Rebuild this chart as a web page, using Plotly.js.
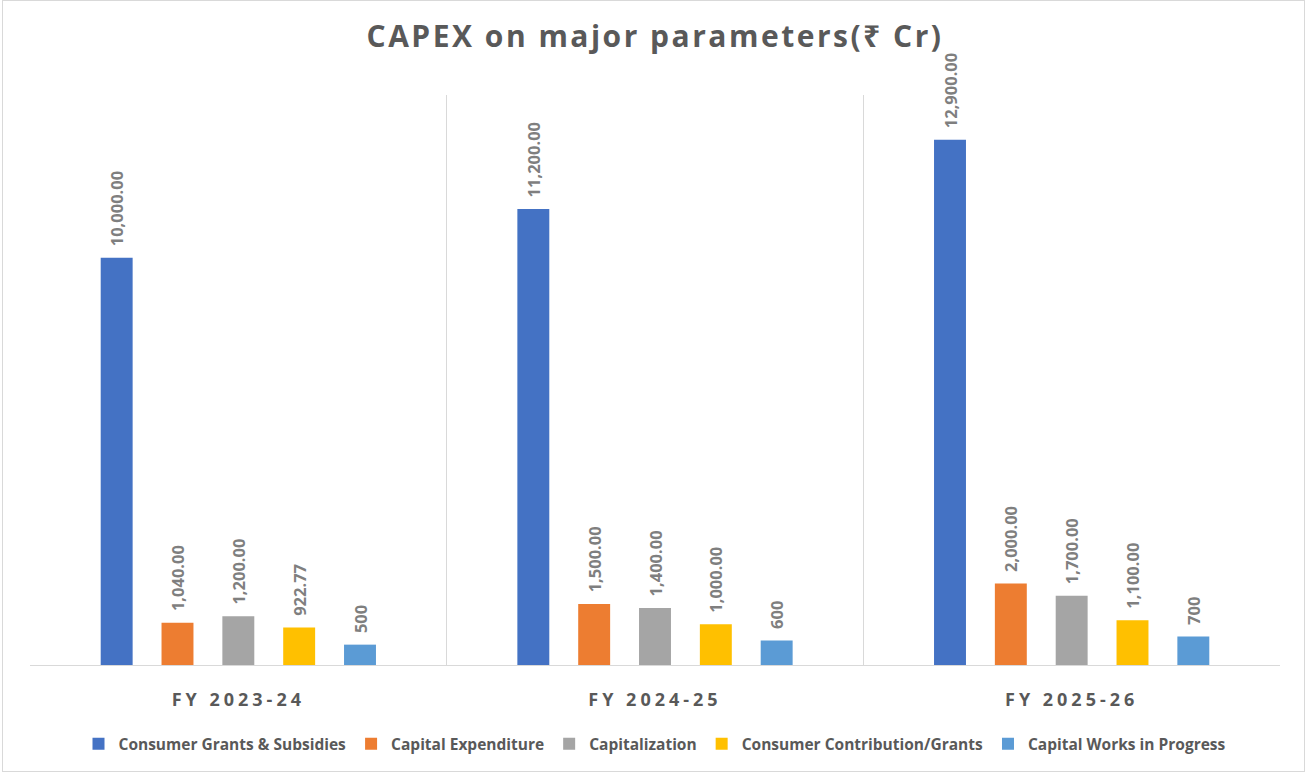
<!DOCTYPE html>
<html>
<head>
<meta charset="utf-8">
<script src="https://cdn.plot.ly/plotly-3.0.1.min.js"></script>
<style>
html,body{margin:0;padding:0;background:#fff;}
#wrap{position:absolute;left:2px;top:0px;width:1303px;height:772px;border:1px solid #d9d9d9;box-sizing:border-box;}
#chart{position:absolute;left:0;top:0;width:1310px;height:776px;}
.xtick text{letter-spacing:4px;}
.gtitle{letter-spacing:2.5px;}
</style>
</head>
<body>
<div id="wrap"></div>
<div id="chart"></div>
<script>
const categories = ["FY 2023-24", "FY 2024-25", "FY 2025-26"];
const seriesNames = ["Consumer Grants & Subsidies", "Capital Expenditure", "Capitalization", "Consumer Contribution/Grants", "Capital Works in Progress"];
const grantsSubsidies = [10000, 11200, 12900];
const capitalExpenditure = [1040, 1500, 2000];
const capitalization = [1200, 1400, 1700];
const contributionGrants = [922.77, 1000, 1100];
const worksInProgress = [500, 600, 700];
const labelsGrants = ["10,000.00", "11,200.00", "12,900.00"];
const labelsCapex = ["1,040.00", "1,500.00", "2,000.00"];
const labelsCapz = ["1,200.00", "1,400.00", "1,700.00"];
const labelsContrib = ["922.77", "1,000.00", "1,100.00"];
const labelsCwip = ["500", "600", "700"];
const colors = ["#4472C4", "#ED7D31", "#A5A5A5", "#FFC000", "#5B9BD5"];

const values = [grantsSubsidies, capitalExpenditure, capitalization, contributionGrants, worksInProgress];
const labels = [labelsGrants, labelsCapex, labelsCapz, labelsContrib, labelsCwip];

const traces = values.map((v, i) => ({
  type: "bar",
  name: seriesNames[i],
  x: categories,
  y: v,
  text: labels[i],
  texttemplate: "\u00A0\u00A0%{text}",
  textposition: "outside",
  textangle: -90,
  constraintext: "none",
  cliponaxis: false,
  textfont: {family: "Open Sans, Noto Sans, sans-serif", size: 16.5, color: "#7f7f7f", weight: "bold"},
  marker: {color: colors[i]},
  hoverinfo: "x+y+name"
}));

const layout = {
  width: 1310,
  height: 776,
  paper_bgcolor: "rgba(0,0,0,0)",
  plot_bgcolor: "rgba(0,0,0,0)",
  margin: {l: 30, r: 30, t: 95, b: 111},
  title: {
    text: "<b>CAPEX on major parameters(₹ Cr)</b>",
    x: 0.5, xanchor: "center",
    y: 0.953, yanchor: "middle",
    font: {family: "Open Sans, Noto Sans, sans-serif", size: 30, color: "#595959"}
  },
  barmode: "group",
  bargap: 0.27,
  bargroupgap: 0.475,
  showlegend: true,
  legend: {
    orientation: "h",
    x: 0.5, xanchor: "center",
    y: -0.139, yanchor: "middle",
    font: {family: "Open Sans, Noto Sans, sans-serif", size: 15.5, color: "#595959", weight: "bold"},
    itemwidth: 30,
    tracegroupgap: 0
  },
  xaxis: {
    type: "category",
    tickson: "boundaries",
    showgrid: true,
    gridcolor: "#d9d9d9",
    gridwidth: 1,
    showline: true,
    linecolor: "#d9d9d9",
    linewidth: 1,
    ticks: "",
    tickfont: {family: "Open Sans, Noto Sans, sans-serif", size: 18, color: "#595959", weight: "bold"},
    ticklabelstandoff: 18
  },
  yaxis: {
    range: [0, 14000],
    visible: false,
    showgrid: false,
    zeroline: false
  }
};

Plotly.newPlot("chart", traces, layout, {displayModeBar: false, responsive: false});
</script>
</body>
</html>
